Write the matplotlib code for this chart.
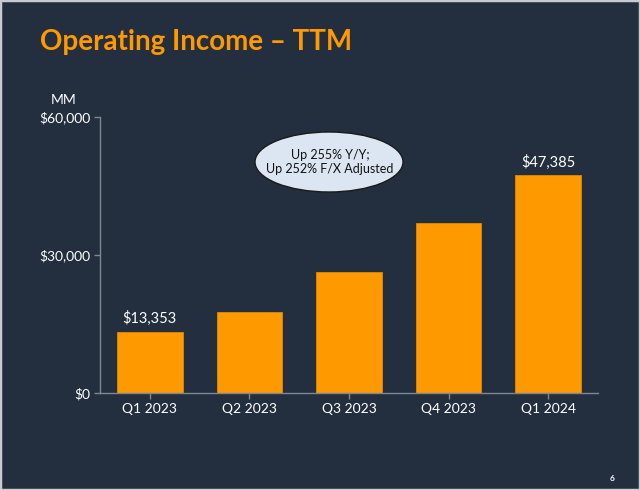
import matplotlib.pyplot as plt
from matplotlib.patches import Ellipse, Rectangle

# data
quarters = ["Q1 2023", "Q2 2023", "Q3 2023", "Q4 2023", "Q1 2024"]
op_income = [13353, 17717, 26380, 36852, 47385]
labelled = {0: "$13,353", 4: "$47,385"}
yticks = [0, 30000, 60000]
ytick_labels = ["$0", "$30,000", "$60,000"]

bg = "#232f3e"
orange = "#ff9900"
fnt = "Lato"

fig = plt.figure(figsize=(6.4, 4.9), dpi=100)
fig.patch.set_facecolor(bg)

# light frame around the slide
fig.patches.append(Rectangle((0, 0), 1, 1, transform=fig.transFigure, fill=False,
                             edgecolor="#c8ccd0", linewidth=2.5))

ax = fig.add_axes([100/640, 1 - 393/490, 498/640, 276/490])
ax.set_facecolor(bg)
ax.bar(range(len(quarters)), op_income, width=0.66, color=orange, edgecolor="#e08a00", linewidth=0.6)
ax.set_xlim(-0.5, 4.5)
ax.set_ylim(0, 60000)
ax.set_xticks(range(len(quarters)))
ax.set_xticklabels(quarters)
ax.set_yticks(yticks)
ax.set_yticklabels(ytick_labels)
for s in ["top", "right"]:
    ax.spines[s].set_visible(False)
for s in ["left", "bottom"]:
    ax.spines[s].set_color("#7f8690")
    ax.spines[s].set_linewidth(1)
ax.tick_params(colors="#7f8690", length=4, width=1, pad=3)
for lbl in ax.get_xticklabels() + ax.get_yticklabels():
    lbl.set_color("white")
    lbl.set_fontsize(10)
    lbl.set_fontfamily(fnt)

for i, txt in labelled.items():
    ax.text(i, op_income[i] + 1200, txt, ha="center", va="bottom", color="white",
            fontsize=10.5, family=fnt)

fig.text(40/640, 1 - 42/490, "Operating Income – TTM", color=orange, fontsize=20,
         fontweight="bold", family=fnt, va="center", ha="left")
fig.text(64/640, 1 - 100/490, "MM", color="white", fontsize=10, family=fnt,
         ha="center", va="center")
fig.text(612/640, 1 - 478/490, "6", color="white", fontsize=6, fontweight="bold",
         family=fnt, ha="center", va="center")

# callout ellipse
ell = Ellipse((329/640, 1 - 162/490), 148/640, 60/490, transform=fig.transFigure,
              facecolor="#dce6f2", edgecolor="#1a1a1a", linewidth=1)
fig.patches.append(ell)
fig.text(330/640, 1 - 162/490, "Up 255% Y/Y;\nUp 252% F/X Adjusted", color="#111111",
         fontsize=9, family=fnt, ha="center", va="center", linespacing=1.25)

fig.savefig("out.png", dpi=100, facecolor=bg)
